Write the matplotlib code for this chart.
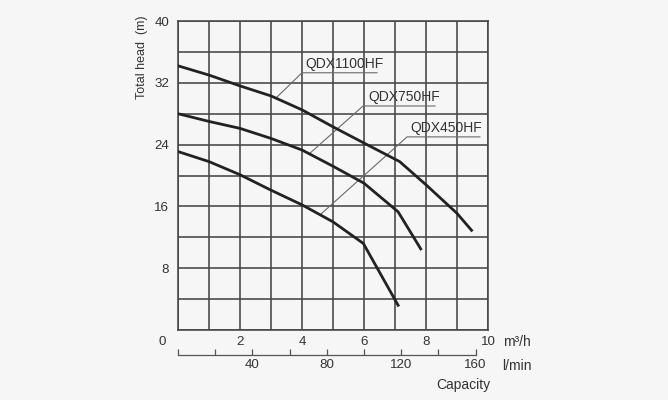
import matplotlib
matplotlib.use("Agg")
import matplotlib.pyplot as plt

plt.rcParams['font.family'] = ['Liberation Sans', 'DejaVu Sans']

# ---- data (capacity in m3/h, head in m) ----
x1100 = [0, 1, 2, 3, 4, 5, 6, 7.15, 8, 9, 9.47]
h1100 = [34.2, 33.0, 31.6, 30.3, 28.5, 26.3, 24.2, 21.8, 18.8, 15.1, 12.9]
x750 = [0, 1, 2, 3, 4, 5, 6, 7.1, 7.83]
h750 = [28.0, 27.0, 26.1, 24.8, 23.3, 21.2, 19.0, 15.3, 10.5]
x450 = [0, 1, 2, 3, 4, 5, 5.98, 7.1]
h450 = [23.1, 21.8, 20.1, 18.1, 16.2, 14.0, 11.2, 3.2]

names = ["QDX1100HF", "QDX750HF", "QDX450HF"]
# leader: point on curve -> elbow -> end of underline ; label position
leader_x = [[3.18, 4.0, 6.42], [4.26, 5.97, 8.29], [4.58, 7.39, 9.74]]
leader_y = [[30.1, 33.3, 33.3], [22.9, 29.0, 29.0], [14.9, 25.0, 25.0]]
label_xy = [(4.1, 34.4), (6.13, 30.1), (7.48, 26.1)]

x_grid = list(range(0, 11))
y_grid = list(range(0, 41, 4))
x_labels = ["", "", "2", "", "4", "", "6", "", "8", "", "10"]
y_ticks = [8, 16, 24, 32, 40]
lmin_ticks = [0, 20, 40, 60, 80, 100, 120, 140, 160]
lmin_labels = ["", "", "40", "", "80", "", "120", "", "160"]

bg = "#f6f6f6"
gridc = "#454545"
txtc = "#333333"
fs = 9.6

fig = plt.figure(figsize=(6.68, 4.0), dpi=100, facecolor=bg)
L, R, B, T = 178 / 668, 488 / 668, 1 - 330 / 400, 1 - 21 / 400
ax = fig.add_axes([L, B, R - L, T - B], facecolor=bg)
ax.set_xlim(0, 10)
ax.set_ylim(0, 40)

for gx in x_grid:
    ax.axvline(gx, color=gridc, lw=1.15, zorder=1)
for gy in y_grid:
    ax.axhline(gy, color=gridc, lw=1.15, zorder=1)
for s in ax.spines.values():
    s.set_color(gridc)
    s.set_linewidth(1.15)

ax.set_xticks(x_grid)
ax.set_xticklabels(x_labels)
ax.set_yticks(y_ticks)
ax.tick_params(axis='both', length=0, labelsize=fs, labelcolor=txtc)
ax.tick_params(axis='x', pad=4.5)
ax.tick_params(axis='y', pad=6.5)

for xs, hs in [(x1100, h1100), (x750, h750), (x450, h450)]:
    ax.plot(xs, hs, color="#222222", lw=2.0, zorder=3, solid_joinstyle='round')

for lx, ly, nm, (tx, ty) in zip(leader_x, leader_y, names, label_xy):
    ax.plot(lx, ly, color="#6a6a6a", lw=0.8, zorder=2)
    ax.text(tx, ty, nm, fontsize=10, color=txtc, ha='left', va='center', zorder=4)

ax.annotate("0", xy=(0, 0), xytext=(-11.5, -8.7), textcoords='offset points',
            ha='center', va='center', fontsize=fs, color=txtc)
ax.annotate("m\u00b3/h", xy=(10, 0), xytext=(10.8, -9), textcoords='offset points',
            ha='left', va='center', fontsize=10, color=txtc)
ax.set_ylabel("Total head  (m)", fontsize=9, color=txtc)
ax.yaxis.set_label_coords(-0.097, 0.883)

# secondary capacity scale in l/min
B2 = 1 - 355 / 400
ax2 = fig.add_axes([L, B2, R - L, 0.001])
ax2.patch.set_alpha(0)
ax2.set_xlim(0, 10 * 1000 / 60)
for k in ['top', 'left', 'right']:
    ax2.spines[k].set_visible(False)
ax2.spines['bottom'].set_bounds(0, 160)
ax2.spines['bottom'].set_color("#555555")
ax2.spines['bottom'].set_linewidth(0.9)
ax2.set_yticks([])
ax2.set_xticks(lmin_ticks)
ax2.set_xticklabels(lmin_labels)
ax2.tick_params(axis='x', direction='in', length=4, width=0.9, color="#555555",
                labelsize=fs, labelcolor=txtc, pad=3)

fig.text(502 / 668, 1 - 366 / 400, "l/min", fontsize=10, color=txtc, ha='left', va='center')
fig.text(463 / 668, 1 - 385 / 400, "Capacity", fontsize=10, color=txtc, ha='center', va='center')

fig.savefig("out.png", dpi=100, facecolor=bg)
